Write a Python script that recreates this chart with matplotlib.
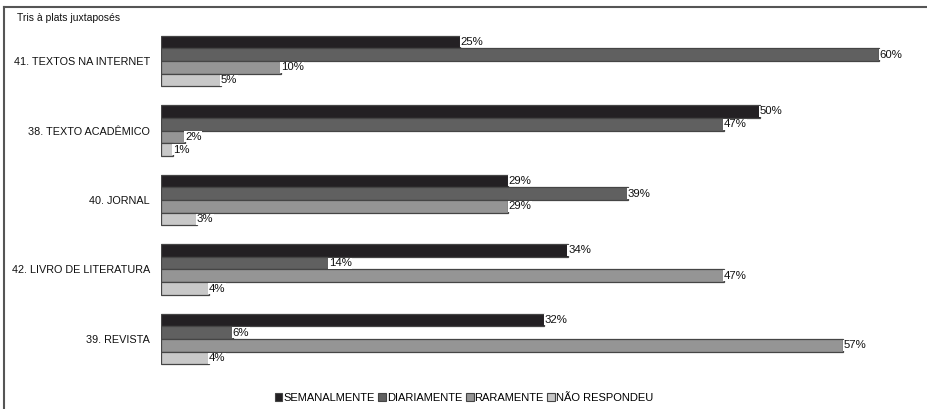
import matplotlib
matplotlib.use("Agg")
import matplotlib.pyplot as plt
from matplotlib.lines import Line2D
from matplotlib.patches import Patch

categories = ["41. TEXTOS NA INTERNET", "38. TEXTO ACADÊMICO", "40. JORNAL",
              "42. LIVRO DE LITERATURA", "39. REVISTA"]
series = ["SEMANALMENTE", "DIARIAMENTE", "RARAMENTE", "NÃO RESPONDEU"]
semanalmente = [25, 50, 29, 34, 32]
diariamente = [60, 47, 39, 14, 6]
raramente = [10, 2, 29, 47, 57]
nao_respondeu = [5, 1, 3, 4, 4]
values = [semanalmente, diariamente, raramente, nao_respondeu]
colors = ["#232023", "#606060", "#959595", "#c8c8c8"]

plt.rcParams["font.family"] = ["Liberation Sans", "DejaVu Sans"]

fig = plt.figure(figsize=(9.27, 4.09), dpi=100)
ax = fig.add_axes([161 / 927, 1 - 380 / 409, (926 - 161) / 927, 360 / 409])

bh = 0.183
for j, (vals, col) in enumerate(zip(values, colors)):
    ys = [i + (j - 1.5) * bh for i in range(len(categories))]
    ax.barh(ys, vals, height=bh, color=col, edgecolor="#454545", linewidth=0.9)
    for y, v in zip(ys, vals):
        ax.text(v, y, f"{v}%", ha="left", va="center", fontsize=8.2,
                color="#111111",
                bbox=dict(boxstyle="square,pad=0.05", fc="white", ec="none"))

ax.set_xlim(0, 63.9)
ax.set_ylim(4.59, -0.59)
ax.set_yticks(range(len(categories)))
ax.set_yticklabels(categories, fontsize=7.8, color="#111111")
ax.tick_params(axis="y", length=0, pad=8)
ax.set_xticks([])
for s in ax.spines.values():
    s.set_visible(False)

# outer frame: top and left edges
fig.add_artist(Line2D([4 / 927, 1], [1 - 7 / 409, 1 - 7 / 409], transform=fig.transFigure,
                      color="#555555", lw=1.5))
fig.add_artist(Line2D([4 / 927, 4 / 927], [0, 1 - 7 / 409], transform=fig.transFigure,
                      color="#555555", lw=1.5))

fig.text(17 / 927, 1 - 18 / 409, "Tris à plats juxtaposés", fontsize=7.5,
         va="center", ha="left", color="#111111")

handles = [Patch(facecolor=c, edgecolor="#454545", linewidth=0.8) for c in colors]
fig.legend(handles, series, loc="center", bbox_to_anchor=(464 / 927, 1 - 398 / 409),
           ncol=4, frameon=False, fontsize=8, handlelength=0.7, handleheight=0.7,
           handletextpad=0.1, columnspacing=0.3, borderpad=0)

fig.savefig("out.png", dpi=100)
